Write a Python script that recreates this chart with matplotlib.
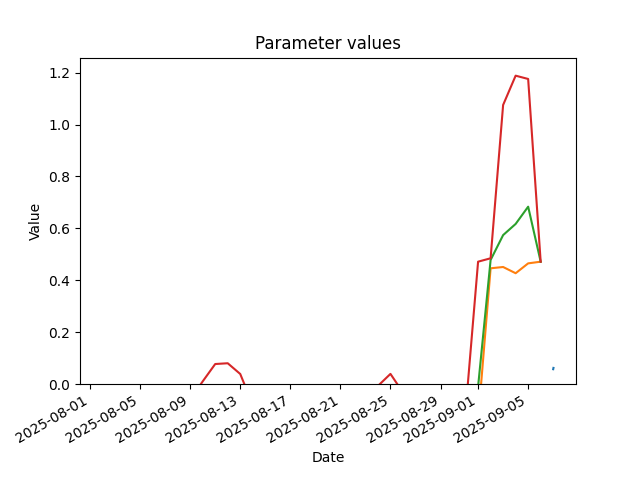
import numpy as np
import pandas as pd
import matplotlib
matplotlib.use("Agg")
import matplotlib.pyplot as plt

# parameter series (values below 0 are clipped by ylim)
blue_dates = pd.to_datetime(["2025-09-07 00:00", "2025-09-07 00:30"])
blue_vals = [0.057, 0.062]

orange_dates = pd.date_range("2025-09-01", "2025-09-06", freq="D")
orange_vals = [-0.141, 0.446, 0.451, 0.427, 0.465, 0.4715]

green_dates = pd.date_range("2025-08-31", "2025-09-06", freq="D")
green_vals = [-0.15, -0.01, 0.478, 0.574, 0.617, 0.6835, 0.4715]

red_dates = pd.date_range("2025-08-02", "2025-09-06", freq="D")
red_vals = [-0.10, -0.12, -0.15, -0.18, -0.205, -0.16, -0.11, -0.06,
            0.01, 0.077, 0.080, 0.0386, -0.08, -0.15, -0.18, -0.19,
            -0.17, -0.14, -0.12, -0.10, -0.08, -0.05, -0.0074, 0.039,
            -0.033, -0.08, -0.12, -0.15, -0.13, -0.1035, 0.4715, 0.4846,
            1.0756, 1.1885, 1.1758, 0.4715]

fig, ax = plt.subplots(figsize=(6.4, 4.8), dpi=100)
ax.plot(blue_dates, blue_vals)
ax.plot(orange_dates, orange_vals)
ax.plot(green_dates, green_vals)
ax.plot(red_dates, red_vals)

ax.set_ylim(bottom=0)
ax.set_title("Parameter values")
ax.set_xlabel("Date")
ax.set_ylabel("Value")
fig.autofmt_xdate()

fig.savefig("out.png")
